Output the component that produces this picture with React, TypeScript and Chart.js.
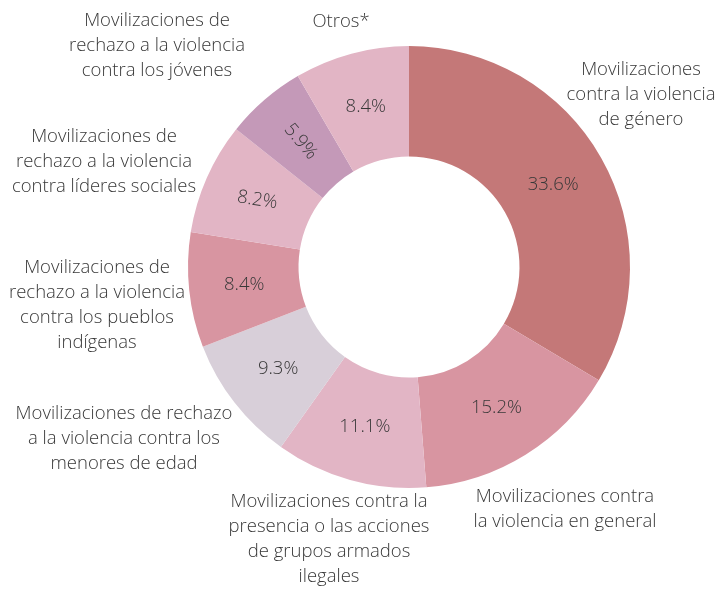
import React, { useEffect, useRef } from "react";
import { Chart, registerables } from "chart.js";

Chart.register(...registerables);

const categories: string[][] = [
  ["Movilizaciones", "contra la violencia", "de género"],
  ["Movilizaciones contra", "la violencia en general"],
  ["Movilizaciones contra la", "presencia o las acciones", "de grupos armados", "ilegales"],
  ["Movilizaciones de rechazo", "a la violencia contra los", "menores de edad"],
  ["Movilizaciones de", "rechazo a la violencia", "contra los pueblos", "indígenas"],
  ["Movilizaciones de", "rechazo a la violencia", "contra líderes sociales"],
  ["Movilizaciones de", "rechazo a la violencia", "contra los jóvenes"],
  ["Otros*"],
];

const shares: number[] = [33.6, 15.2, 11.1, 9.3, 8.4, 8.2, 5.9, 8.4];

const colors: string[] = [
  "#c47878",
  "#d895a1",
  "#e2b5c5",
  "#d8cfd9",
  "#d895a1",
  "#e2b5c5",
  "#c499b8",
  "#e2b5c5",
];

// text layout (center x, first line y) for outside labels
const labelAnchors: [number, number][] = [
  [641, 70],
  [565, 497],
  [329, 502],
  [124, 414],
  [97, 268],
  [104, 137],
  [157, 21],
  [341, 22],
];

// rotation (degrees) of the value labels
const valueRotation: number[] = [0, 0, 0, 0, 0, 9, 50, 0];

const FONT = "'Open Sans', 'Noto Sans', sans-serif";
const TEXT_COLOR = "#383838";
const LINE_H = 25;

export default function App() {
  const ref = useRef<HTMLCanvasElement | null>(null);

  useEffect(() => {
    if (!ref.current) return;
    const labelPlugin = {
      id: "labelPlugin",
      afterDatasetsDraw(chart: any) {
        const ctx = chart.ctx as CanvasRenderingContext2D;
        const meta = chart.getDatasetMeta(0);
        ctx.save();
        ctx.fillStyle = TEXT_COLOR;
        ctx.font = `300 18.5px ${FONT}`;
        ctx.textAlign = "center";
        ctx.textBaseline = "middle";
        meta.data.forEach((arc: any, i: number) => {
          const p = arc.tooltipPosition();
          ctx.save();
          ctx.translate(p.x, p.y);
          ctx.rotate((valueRotation[i] * Math.PI) / 180);
          ctx.fillText(shares[i].toFixed(1) + "%", 0, 0);
          ctx.restore();
        });
        categories.forEach((lines, i) => {
          const [cx, y0] = labelAnchors[i];
          lines.forEach((line, j) => {
            ctx.fillText(line, cx, y0 + j * LINE_H);
          });
        });
        ctx.restore();
      },
    };

    const chart = new Chart(ref.current, {
      type: "doughnut",
      data: {
        labels: categories.map((c) => c.join(" ")),
        datasets: [
          {
            data: shares,
            backgroundColor: colors,
            borderWidth: 0,
          },
        ],
      },
      options: {
        responsive: false,
        animation: false,
        cutout: "50%",
        layout: { padding: { left: 188, right: 87, top: 46, bottom: 101 } },
        plugins: {
          legend: { display: false },
          tooltip: { enabled: false },
        },
      },
      plugins: [labelPlugin],
    });
    return () => chart.destroy();
  }, []);

  return (
    <div style={{ position: "absolute", left: 0, top: 0, width: 717, height: 589, background: "#fff" }}>
      <canvas ref={ref} width={717} height={589} style={{ width: 717, height: 589 }} />
    </div>
  );
}
